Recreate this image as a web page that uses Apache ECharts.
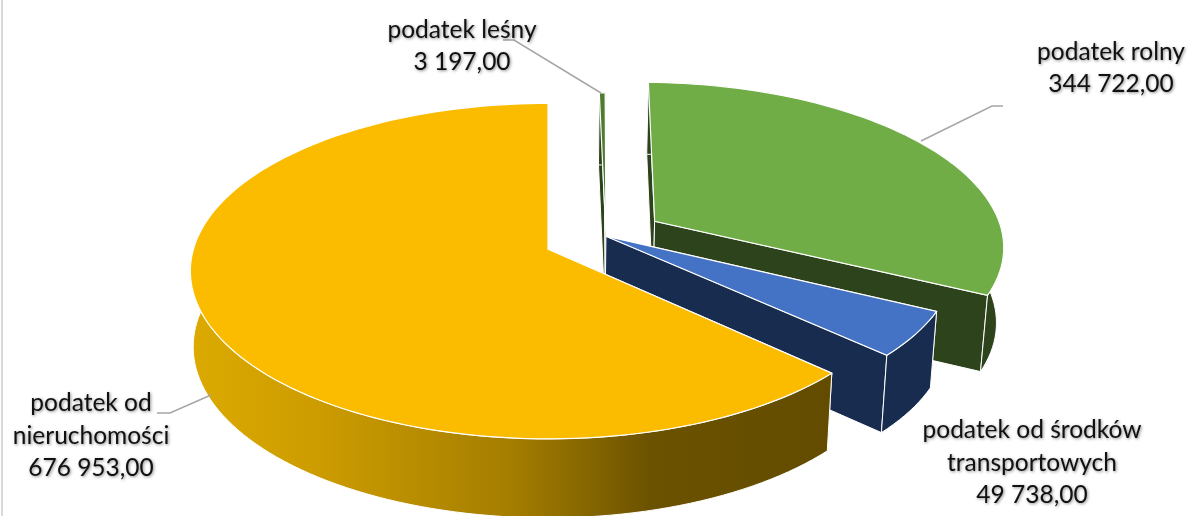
<!DOCTYPE html>
<html>
<head>
<meta charset="utf-8">
<style>
  html, body { margin: 0; padding: 0; background: #fff; }
  #chart { width: 1192px; height: 516px; }
</style>
<script src="https://cdn.jsdelivr.net/npm/echarts@6/dist/echarts.min.js"></script>
</head>
<body>
<div id="chart"></div>
<script>
// dane, kolejnosc zgodna z ruchem wskazowek od godziny 12
const categories = ["podatek leśny", "podatek rolny", "podatek od środków\ntransportowych", "podatek od\nnieruchomości"];
const values = [3197, 344722, 49738, 676953];

const topColors = ["#4f7b2f", "#70ad47", "#4472c4", "#fbbc00"];
const sideColors = ["#2d431c", "#2d431c", "#182c50", null];

// rozsuniecie wycinkow i promien (Excel pozwala ustawic je osobno)
const shiftU = [58, 108, 58, 0];
const shiftV = [0, -0.098, -0.005, 0.074];
const radiusScale = [1, 0.985, 0.975, 0.992];

const labelX = [462, 1111, 1032, 91];
const labelY = [46, 68, 463, 436];
const leaders = [
  [[503, 40], [514, 40], [601, 93]],
  [[1003, 106], [992, 106], [921, 141]],
  [[157, 413], [170, 413], [211, 395]],
];

// rzut perspektywiczny plaszczyzny kola
const VX = 548, CY = 237, RX = 354, RY = 163, PERSP = 0.1305;
const DEPTH = 75;

function project(s, t) {
  const w = 1 - PERSP * t;
  return [VX + s / w, CY + RY * t / w];
}
function lower(p) {
  const k = p[0] < VX ? 0.992 : 0.984;
  return [VX + (p[0] - VX) * k, p[1] + DEPTH + (p[1] - CY) * 0.02];
}
function formatValue(v) {
  return String(v).replace(/\B(?=(\d{3})+$)/g, " ") + ",00";
}

const total = values.reduce((a, b) => a + b, 0);

function renderSlice(params, api) {
  const i = params.dataIndex;
  let start = 0;
  for (let k = 0; k < i; k++) start += values[k];
  const a0 = start / total * Math.PI * 2;
  const a1 = (start + api.value(0)) / total * Math.PI * 2;

  const sc = radiusScale[i];
  const rim = [];
  const steps = Math.max(2, Math.ceil((a1 - a0) / 0.03));
  for (let k = 0; k <= steps; k++) {
    const a = a0 + (a1 - a0) * k / steps;
    rim.push(project(shiftU[i] + RX * sc * Math.sin(a), shiftV[i] - sc * Math.cos(a)));
  }
  const apex = project(shiftU[i], shiftV[i]);
  const rimLow = rim.map(lower);
  const apexLow = lower(apex);

  const sideFill = sideColors[i] || new echarts.graphic.LinearGradient(190, 0, 830, 0, [
    { offset: 0, color: "#dcaa00" },
    { offset: 0.2, color: "#cc9c00" },
    { offset: 0.5, color: "#a57e00" },
    { offset: 0.72, color: "#6b5200" },
    { offset: 1, color: "#634c00" },
  ], true);
  const edge = { stroke: "#fff", lineWidth: 1 };
  const face = (points, fill, st) => ({
    type: "polygon",
    shape: { points: points },
    style: Object.assign({ fill: fill }, st),
  });

  return {
    type: "group",
    children: [
      face([apex, rim[0], rimLow[0], apexLow], sideFill, edge),
      face([apex, rim[steps], rimLow[steps], apexLow], sideFill, edge),
      face(rim.concat(rimLow.slice().reverse()), sideFill, edge),
      face([apex].concat(rim), topColors[i], { stroke: "#fff", lineWidth: 1.2 }),
    ],
  };
}

const labelElements = categories.map((name, i) => ({
  type: "text",
  z: 10,
  silent: true,
  style: {
    x: labelX[i],
    y: labelY[i],
    text: name + "\n" + formatValue(values[i]),
    fill: "#111",
    font: "24.5px Lato",
    lineHeight: 32.5,
    align: "center",
    verticalAlign: "middle",
    textShadowColor: "rgba(0,0,0,0.45)",
    textShadowBlur: 3,
    textShadowOffsetX: 1,
    textShadowOffsetY: 1,
  },
}));
const leaderElements = leaders.map((pts) => ({
  type: "polyline",
  z: 9,
  silent: true,
  shape: { points: pts },
  style: { stroke: "#a6a6a6", lineWidth: 1.5, fill: null },
}));
const frame = {
  type: "rect",
  z: 11,
  silent: true,
  shape: { x: 1, y: 0, width: 2, height: 516 },
  style: { fill: "#d9d9d9" },
};

const chart = echarts.init(document.getElementById("chart"), null, { renderer: "canvas" });
chart.setOption({
  animation: false,
  backgroundColor: "#fff",
  series: [{
    type: "custom",
    coordinateSystem: "none",
    silent: true,
    renderItem: renderSlice,
    data: values.map((v, i) => ({ name: categories[i], value: [v] })),
  }],
  graphic: { elements: leaderElements.concat(labelElements, [frame]) },
});
</script>
</body>
</html>
